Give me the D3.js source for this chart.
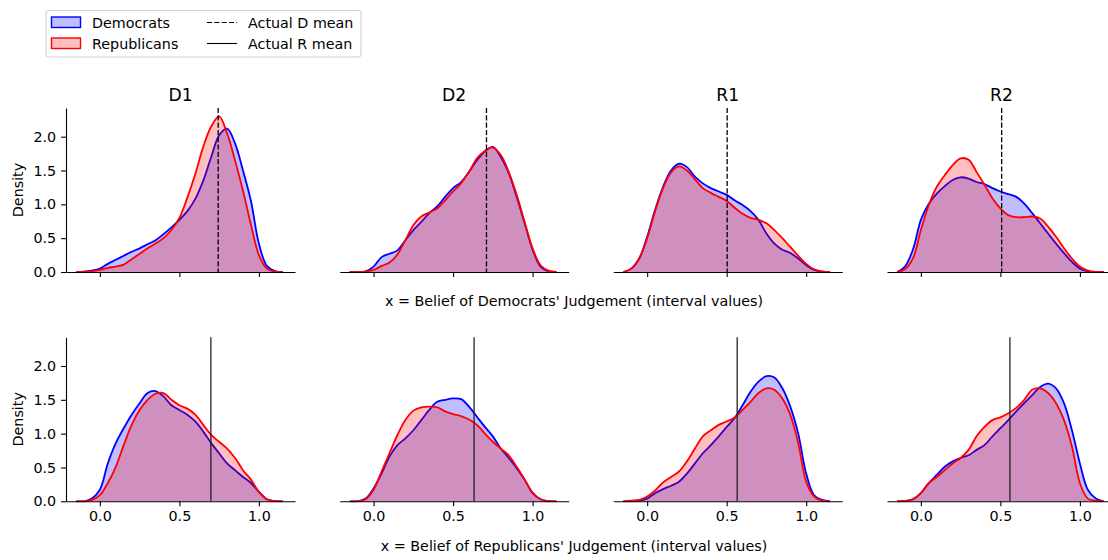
<!DOCTYPE html>
<html>
<head>
<meta charset="utf-8">
<script src="https://cdn.jsdelivr.net/npm/d3@7"></script>
<style>
  body { margin: 0; background: #fff; }
  svg { display: block; font-family: "DejaVu Sans", sans-serif; }
</style>
</head>
<body>
<div id="chart"></div>
<script>
// KDE panels: belief of Democrats' / Republicans' judgement

var panelNames = ['D1', 'D2', 'R1', 'R2'];

var gridX = [-0.15, -0.1, -0.05, 0, 0.05, 0.1, 0.15, 0.2, 0.25, 0.3, 0.35, 0.4, 0.45, 0.5,
             0.55, 0.6, 0.65, 0.7, 0.75, 0.8, 0.85, 0.9, 0.95, 1.0, 1.05, 1.1, 1.15];

// top row: belief of Democrats' judgement
var topDem = [
  [0, 0.005, 0.02, 0.05, 0.12, 0.18, 0.24, 0.30, 0.35, 0.41, 0.47, 0.56, 0.66, 0.77, 0.9, 1.08, 1.35, 1.7, 2.02, 2.12, 1.9, 1.5, 1.05, 0.42, 0.09, 0.015, 0],
  [0, 0, 0.01, 0.08, 0.22, 0.27, 0.32, 0.47, 0.62, 0.74, 0.87, 0.97, 1.11, 1.24, 1.33, 1.48, 1.65, 1.78, 1.85, 1.7, 1.46, 1.11, 0.72, 0.33, 0.08, 0.01, 0],
  [0, 0.05, 0.2, 0.52, 0.92, 1.26, 1.5, 1.6, 1.55, 1.41, 1.31, 1.24, 1.19, 1.14, 1.06, 0.99, 0.9, 0.77, 0.57, 0.42, 0.33, 0.28, 0.2, 0.1, 0.03, 0.005, 0],
  [0, 0.08, 0.33, 0.77, 1.01, 1.16, 1.27, 1.36, 1.4, 1.38, 1.33, 1.3, 1.24, 1.19, 1.15, 1.11, 1.01, 0.87, 0.72, 0.57, 0.42, 0.28, 0.15, 0.05, 0.01, 0, 0]
];
var topRep = [
  [0, 0.003, 0.01, 0.03, 0.06, 0.08, 0.11, 0.19, 0.27, 0.35, 0.42, 0.5, 0.62, 0.8, 1.1, 1.45, 1.85, 2.15, 2.3, 2.05, 1.65, 1.2, 0.7, 0.25, 0.05, 0.005, 0],
  [0, 0, 0.005, 0.03, 0.09, 0.14, 0.26, 0.47, 0.69, 0.82, 0.88, 0.94, 1.06, 1.19, 1.31, 1.48, 1.68, 1.79, 1.84, 1.73, 1.48, 1.14, 0.74, 0.35, 0.1, 0.02, 0],
  [0, 0.05, 0.2, 0.5, 0.9, 1.24, 1.47, 1.56, 1.5, 1.37, 1.24, 1.17, 1.11, 1.05, 0.95, 0.86, 0.8, 0.77, 0.72, 0.62, 0.5, 0.37, 0.24, 0.12, 0.04, 0.01, 0],
  [0, 0.04, 0.2, 0.62, 0.99, 1.26, 1.43, 1.58, 1.68, 1.66, 1.48, 1.29, 1.09, 0.94, 0.84, 0.81, 0.81, 0.82, 0.79, 0.67, 0.52, 0.35, 0.2, 0.08, 0.02, 0, 0]
];

// bottom row: belief of Republicans' judgement
var botDem = [
  [0, 0, 0.04, 0.17, 0.56, 0.86, 1.08, 1.28, 1.45, 1.6, 1.63, 1.55, 1.42, 1.35, 1.28, 1.18, 1.03, 0.86, 0.71, 0.56, 0.46, 0.36, 0.27, 0.14, 0.03, 0, 0],
  [0, 0, 0.04, 0.19, 0.41, 0.66, 0.83, 0.93, 1.05, 1.2, 1.35, 1.47, 1.5, 1.52, 1.51, 1.4, 1.25, 1.1, 0.96, 0.78, 0.64, 0.49, 0.32, 0.12, 0.03, 0, 0],
  [0, 0, 0.01, 0.04, 0.12, 0.18, 0.23, 0.29, 0.41, 0.56, 0.71, 0.83, 0.96, 1.1, 1.23, 1.42, 1.62, 1.77, 1.85, 1.83, 1.67, 1.4, 1.0, 0.41, 0.09, 0.02, 0],
  [0, 0.005, 0.03, 0.12, 0.27, 0.39, 0.51, 0.59, 0.64, 0.68, 0.76, 0.83, 0.96, 1.08, 1.2, 1.33, 1.45, 1.57, 1.69, 1.74, 1.67, 1.45, 1.05, 0.56, 0.17, 0.04, 0]
];
var botRep = [
  [0, 0, 0.02, 0.09, 0.27, 0.51, 0.83, 1.13, 1.35, 1.5, 1.59, 1.6, 1.5, 1.42, 1.37, 1.28, 1.13, 0.98, 0.88, 0.78, 0.64, 0.46, 0.32, 0.14, 0.03, 0.005, 0],
  [0, 0, 0.03, 0.17, 0.44, 0.71, 0.98, 1.2, 1.34, 1.39, 1.4, 1.39, 1.33, 1.29, 1.26, 1.21, 1.13, 1.0, 0.88, 0.78, 0.68, 0.51, 0.32, 0.13, 0.03, 0.005, 0],
  [0, 0.01, 0.02, 0.07, 0.16, 0.28, 0.36, 0.44, 0.59, 0.78, 0.96, 1.05, 1.13, 1.18, 1.24, 1.35, 1.47, 1.6, 1.67, 1.65, 1.52, 1.28, 0.86, 0.29, 0.07, 0.01, 0],
  [0, 0.005, 0.03, 0.12, 0.27, 0.36, 0.46, 0.56, 0.64, 0.76, 0.96, 1.1, 1.2, 1.24, 1.3, 1.38, 1.5, 1.65, 1.67, 1.6, 1.45, 1.2, 0.81, 0.27, 0.04, 0.01, 0]
];

// actual means (dashed = D, solid = R)
var meanD = [0.744, 0.71, 0.503, 0.508];
var meanR = [0.698, 0.632, 0.566, 0.56];

var yTicks = [0, 0.5, 1.0, 1.5, 2.0];
var xTicks = [0, 0.5, 1.0];
var rowLabels = ["x = Belief of Democrats' Judgement (interval values)",
                 "x = Belief of Republicans' Judgement (interval values)"];

// layout
var svgWidth = 1108, svgHeight = 560;
var axW = 229, axH = 164;
var colLeft = [66, 339.7, 613.3, 887];
var rowTop = [108, 337.3];
var fontSize = '14.3px';

var svg = d3.select('#chart').append('svg')
    .attr('width', svgWidth)
    .attr('height', svgHeight);

var xScale = d3.scaleLinear().domain([-0.213, 1.227]).range([0, axW]);
var yScale = d3.scaleLinear().domain([0, 2.424]).range([axH, 0]);

var area = d3.area()
    .x((d) => xScale(d[0]))
    .y0(axH)
    .y1((d) => yScale(Math.max(0, d[1])))
    .curve(d3.curveCatmullRom.alpha(0.5));
var line = d3.line()
    .x((d) => xScale(d[0]))
    .y((d) => yScale(Math.max(0, d[1])))
    .curve(d3.curveCatmullRom.alpha(0.5));

svg.append('defs').append('clipPath')
    .attr('id', 'ax-clip')
  .append('rect')
    .attr('x', 0).attr('y', 0)
    .attr('width', axW).attr('height', axH + 1);

var rows = [[topDem, topRep, meanD], [botDem, botRep, meanR]];

rows.forEach(function(row, r) {
  panelNames.forEach(function(name, c) {
    var g = svg.append('g')
        .attr('transform', 'translate(' + colLeft[c] + ',' + rowTop[r] + ')');

    var plot = g.append('g').attr('clip-path', 'url(#ax-clip)');
    var dem = gridX.map((x, i) => [x, row[0][c][i]]);
    var rep = gridX.map((x, i) => [x, row[1][c][i]]);

    plot.append('path').attr('d', area(dem)).attr('fill', 'rgba(0,0,255,0.25)');
    plot.append('path').attr('d', line(dem)).attr('fill', 'none')
        .attr('stroke', 'blue').attr('stroke-width', 1.8);
    plot.append('path').attr('d', area(rep)).attr('fill', 'rgba(255,0,0,0.25)');
    plot.append('path').attr('d', line(rep)).attr('fill', 'none')
        .attr('stroke', 'red').attr('stroke-width', 1.8);

    // mean line
    var mx = xScale(row[2][c]);
    g.append('line')
        .attr('x1', mx).attr('x2', mx)
        .attr('y1', 0).attr('y2', axH)
        .attr('stroke', r === 0 ? '#000' : '#222')
        .attr('stroke-width', 1.3)
        .attr('stroke-dasharray', r === 0 ? '5.1,2.2' : null);

    // x axis
    var xAxis = d3.axisBottom(xScale)
        .tickValues(xTicks)
        .tickSize(4.9).tickSizeOuter(0).tickPadding(4.9)
        .tickFormat(r === 0 ? '' : d3.format('.1f'));
    var xa = g.append('g')
        .attr('transform', 'translate(0,' + axH + ')')
        .call(xAxis);

    if (c === 0) {
      var yAxis = d3.axisLeft(yScale)
          .tickValues(yTicks)
          .tickSize(4.9).tickSizeOuter(0).tickPadding(4.9)
          .tickFormat(d3.format('.1f'));
      var ya = g.append('g').call(yAxis);
      styleAxis(ya);
      g.append('text')
          .attr('transform', 'translate(' + (-43) + ',' + (axH / 2) + ') rotate(-90)')
          .attr('text-anchor', 'middle')
          .style('font-size', fontSize)
          .text('Density');
    }
    styleAxis(xa);

    if (r === 0) {
      g.append('text')
          .attr('x', axW / 2)
          .attr('y', -7)
          .attr('text-anchor', 'middle')
          .style('font-size', '17.2px')
          .text(name);
    }
  });

  svg.append('text')
      .attr('x', 574)
      .attr('y', r === 0 ? 306 : 551)
      .attr('text-anchor', 'middle')
      .style('font-size', fontSize)
      .text(rowLabels[r]);
});

function styleAxis(sel) {
  sel.select('.domain').attr('stroke', '#000').attr('stroke-width', 1.1);
  sel.selectAll('.tick line').attr('stroke', '#000').attr('stroke-width', 1.1);
  sel.selectAll('.tick text')
      .attr('fill', '#000')
      .style('font-family', '"DejaVu Sans", sans-serif')
      .style('font-size', fontSize);
}

// Legend
var legend = svg.append('g');
legend.append('rect')
    .attr('x', 46).attr('y', 10.5)
    .attr('width', 315).attr('height', 46.5)
    .attr('rx', 3)
    .attr('fill', '#fff')
    .attr('stroke', '#d0d0d0')
    .attr('stroke-width', 1.1);

var legendPatches = [
  { label: 'Democrats', fill: 'rgba(0,0,255,0.25)', stroke: 'blue' },
  { label: 'Republicans', fill: 'rgba(255,0,0,0.25)', stroke: 'red' }
];
var legendLines = [
  { label: 'Actual D mean', dash: '5.1,2.2' },
  { label: 'Actual R mean', dash: null }
];

legendPatches.forEach(function(d, i) {
  var yy = 17 + i * 21;
  legend.append('rect')
      .attr('x', 51.5).attr('y', yy)
      .attr('width', 29).attr('height', 10.5)
      .attr('fill', d.fill)
      .attr('stroke', d.stroke)
      .attr('stroke-width', 1.4);
  legend.append('text')
      .attr('x', 92).attr('y', yy + 10.5)
      .style('font-size', fontSize)
      .text(d.label);
});
legendLines.forEach(function(d, i) {
  var yy = 22.5 + i * 21;
  legend.append('line')
      .attr('x1', 207).attr('x2', 237)
      .attr('y1', yy).attr('y2', yy)
      .attr('stroke', '#000')
      .attr('stroke-width', 1.1)
      .attr('stroke-dasharray', d.dash);
  legend.append('text')
      .attr('x', 248).attr('y', yy + 5)
      .style('font-size', fontSize)
      .text(d.label);
});
</script>
</body>
</html>
